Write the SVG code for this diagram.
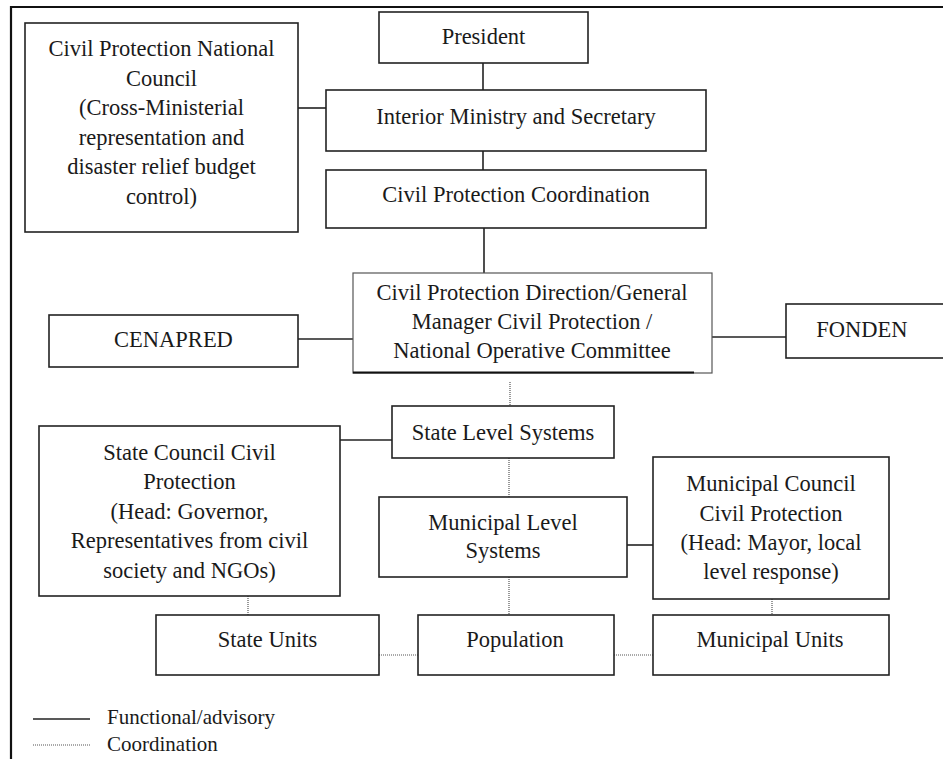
<svg xmlns="http://www.w3.org/2000/svg" width="943" height="759" viewBox="0 0 943 759">
<style>
.box{fill:#fff;stroke:#222;stroke-width:1.6}
.t{font-family:"Liberation Serif","Times New Roman",serif;font-size:22.5px;fill:#1a1a1a;text-anchor:middle}
.lg{font-family:"Liberation Serif","Times New Roman",serif;font-size:21px;fill:#1a1a1a}
.solid{stroke:#222;stroke-width:1.6;fill:none}
.dot{stroke:#555;stroke-width:1.2;stroke-dasharray:1 1;fill:none}
</style>
<rect width="943" height="759" fill="#fff"/>
<g id="frame">
<line x1="10" y1="7" x2="943" y2="7" stroke="#111" stroke-width="2"/>
<line x1="11" y1="6" x2="11" y2="759" stroke="#111" stroke-width="2.2"/>
</g>
<g id="connectors">
<line class="solid" x1="483" y1="63" x2="483" y2="90"/>
<line class="solid" x1="298" y1="108" x2="326" y2="108"/>
<line class="solid" x1="483" y1="151" x2="483" y2="170"/>
<line class="solid" x1="484" y1="228" x2="484" y2="273"/>
<line class="solid" x1="298" y1="339" x2="353" y2="339"/>
<line class="solid" x1="712" y1="337" x2="786" y2="337"/>
<line class="dot" x1="510" y1="382" x2="510" y2="406"/>
<line class="solid" x1="340" y1="440" x2="392" y2="440"/>
<line class="dot" x1="509" y1="458" x2="509" y2="497"/>
<line class="solid" x1="627" y1="545" x2="653" y2="545"/>
<line class="dot" x1="509" y1="577" x2="509" y2="615"/>
<line class="dot" x1="772" y1="599" x2="772" y2="615"/>
<line class="dot" x1="248" y1="596" x2="248" y2="615"/>
<line class="dot" x1="379" y1="655" x2="418" y2="655"/>
<line class="dot" x1="614" y1="655" x2="653" y2="655"/>
</g>
<g id="cpnc">
<rect class="box" x="25" y="23" width="273" height="209"/>
<text class="t" x="161.5" y="56">Civil Protection National</text>
<text class="t" x="161.5" y="85.6">Council</text>
<text class="t" x="161.5" y="115.2">(Cross-Ministerial</text>
<text class="t" x="161.5" y="144.8">representation and</text>
<text class="t" x="161.5" y="174.4">disaster relief budget</text>
<text class="t" x="161.5" y="204">control)</text>
</g>
<g id="president">
<rect class="box" x="379" y="12" width="209" height="51"/>
<text class="t" x="483.5" y="44">President</text>
</g>
<g id="interior">
<rect class="box" x="326" y="90" width="380" height="61"/>
<text class="t" x="516" y="124">Interior Ministry and Secretary</text>
</g>
<g id="coordination">
<rect class="box" x="326" y="170" width="380" height="58"/>
<text class="t" x="516" y="202">Civil Protection Coordination</text>
</g>
<g id="direction">
<rect x="353" y="273" width="359" height="100" fill="#fff" stroke="#555" stroke-width="1.2"/>
<line x1="353" y1="372.5" x2="694" y2="372.5" stroke="#111" stroke-width="2"/>
<text class="t" x="532" y="300">Civil Protection Direction/General</text>
<text class="t" x="532" y="329">Manager Civil Protection /</text>
<text class="t" x="532" y="358">National Operative Committee</text>
</g>
<g id="cenapred">
<rect class="box" x="49" y="315" width="249" height="52"/>
<text class="t" x="173.5" y="347">CENAPRED</text>
</g>
<g id="fonden">
<rect class="box" x="786" y="304" width="162" height="54"/>
<text class="t" x="862" y="337">FONDEN</text>
</g>
<g id="state-level">
<rect class="box" x="392" y="406" width="222" height="52"/>
<text class="t" x="503" y="440">State Level Systems</text>
</g>
<g id="state-council">
<rect class="box" x="39" y="426" width="301" height="170"/>
<text class="t" x="189.5" y="459.5">State Council Civil</text>
<text class="t" x="189.5" y="489">Protection</text>
<text class="t" x="189.5" y="518.5">(Head: Governor,</text>
<text class="t" x="189.5" y="548">Representatives from civil</text>
<text class="t" x="189.5" y="577.5">society and NGOs)</text>
</g>
<g id="municipal-level">
<rect class="box" x="379" y="497" width="248" height="80"/>
<text class="t" x="503" y="530">Municipal Level</text>
<text class="t" x="503" y="558">Systems</text>
</g>
<g id="municipal-council">
<rect class="box" x="653" y="457" width="236" height="142"/>
<text class="t" x="771" y="491">Municipal Council</text>
<text class="t" x="771" y="521">Civil Protection</text>
<text class="t" x="771" y="550">(Head: Mayor, local</text>
<text class="t" x="771" y="579">level response)</text>
</g>
<g id="state-units">
<rect class="box" x="156" y="615" width="223" height="60"/>
<text class="t" x="267.5" y="647">State Units</text>
</g>
<g id="population">
<rect class="box" x="418" y="615" width="196" height="60"/>
<text class="t" x="515" y="647">Population</text>
</g>
<g id="municipal-units">
<rect class="box" x="653" y="615" width="236" height="60"/>
<text class="t" x="770" y="647">Municipal Units</text>
</g>
<g id="legend">
<line class="solid" x1="33" y1="719" x2="90" y2="719"/>
<text class="lg" x="107" y="724">Functional/advisory</text>
<line class="dot" x1="33" y1="745" x2="90" y2="745"/>
<text class="lg" x="107" y="751">Coordination</text>
</g>
</svg>
